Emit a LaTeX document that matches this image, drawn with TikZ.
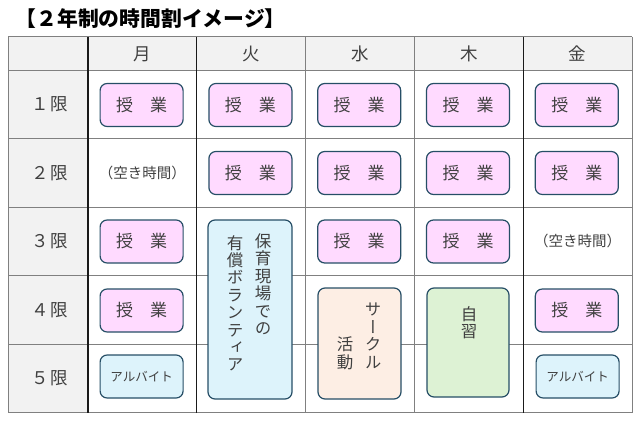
\documentclass[tikz,border=0pt]{standalone}
\usepackage{fontspec}
\setmainfont{Noto Sans CJK JP}
\newfontfamily\jpv[RawFeature=+vert]{Noto Sans CJK JP}
\definecolor{hdr}{HTML}{F2F2F2}
\definecolor{hline}{HTML}{808080}
\definecolor{vline}{HTML}{1A1A1A}
\definecolor{boxc}{HTML}{264E66}
\definecolor{txt}{HTML}{404040}
\definecolor{pinkf}{HTML}{FFDAFF}
\definecolor{bluef}{HTML}{DDF3FB}
\definecolor{peachf}{HTML}{FDEEE4}
\definecolor{greenf}{HTML}{DDF2D4}
\tikzset{
  jbox/.style={draw=boxc, line width=1.2pt, rounded corners=7pt, minimum width=83pt, minimum height=43pt, inner sep=0pt, text=txt},
  classbox/.style={jbox, fill=pinkf, font=\fontsize{17}{17}\selectfont},
  jobbox/.style={jbox, fill=bluef, font=\fontsize{12.5}{12.5}\selectfont},
  lbl/.style={inner sep=0pt, text=txt},
  hdrtxt/.style={lbl, font=\fontsize{17.5}{17.5}\selectfont},
  freetxt/.style={lbl, font=\fontsize{14.5}{14.5}\selectfont},
  vtxt/.style={lbl, anchor=north, align=center, font=\jpv\fontsize{16.5}{17.4}\selectfont},
}
\begin{document}
\begin{tikzpicture}[x=1pt,y=-1pt]
\useasboundingbox (0,0) rectangle (639,422);
% backgrounds
\fill[hdr] (8,37) rectangle (632,70.5);
\fill[hdr] (8,70.5) rectangle (88,412.5);
% horizontal lines
\foreach \yy in {37,70.5,138.5,207,275.5,344,412.5}
  \draw[hline, line width=1pt] (8,\yy) -- (632,\yy);
% vertical lines
\foreach \xx in {8,305.6,414.4,632}
  \draw[hline, line width=1pt] (\xx,37) -- (\xx,412.5);
\foreach \xx in {88,196.8,523.2}
  \draw[vline, line width=1.1pt] (\xx,37) -- (\xx,412.5);
% title
\node[anchor=west, inner sep=0pt, font=\bfseries\fontsize{20.8}{20.8}\selectfont] (title) at (15.5,19) {【２年制の時間割イメージ】};
% headers
\node[hdrtxt] (mon) at (142.4,54) {月};
\node[hdrtxt] (tue) at (251.2,54) {火};
\node[hdrtxt] (wed) at (360,54) {水};
\node[hdrtxt] (thu) at (468.8,54) {木};
\node[hdrtxt] (fri) at (577.6,54) {金};
\node[hdrtxt] (p1) at (50,104.5) {１\hspace{2pt}限};
\node[hdrtxt] (p2) at (50,172.75) {２\hspace{2pt}限};
\node[hdrtxt] (p3) at (50,241.25) {３\hspace{2pt}限};
\node[hdrtxt] (p4) at (50,309.75) {４\hspace{2pt}限};
\node[hdrtxt] (p5) at (50,378.25) {５\hspace{2pt}限};
% row 1
\node[classbox] (m1) at (141.6,105) {授　業};
\node[classbox] (t1) at (250.4,105) {授　業};
\node[classbox] (w1) at (359.2,105) {授　業};
\node[classbox] (h1) at (468,105) {授　業};
\node[classbox] (f1) at (576.8,105) {授　業};
% row 2
\node[freetxt] (m2) at (142.4,172.75) {（空き時間）};
\node[classbox] (t2) at (250.4,173) {授　業};
\node[classbox] (w2) at (359.2,173) {授　業};
\node[classbox] (h2) at (468,173) {授　業};
\node[classbox] (f2) at (576.8,173) {授　業};
% row 3
\node[classbox] (m3) at (141.6,241.5) {授　業};
\node[classbox] (w3) at (359.2,241.5) {授　業};
\node[classbox] (h3) at (468,241.5) {授　業};
\node[freetxt] (f3) at (577.6,241.25) {（空き時間）};
% row 4
\node[classbox] (m4) at (141.6,310.5) {授　業};
\node[classbox] (f4) at (576.8,310.5) {授　業};
% row 5
\node[jobbox] (m5) at (141.6,376.5) {アルバイト};
\node[jobbox] (f5) at (577.6,376.5) {アルバイト};
% tall boxes
\node[jbox, fill=bluef, minimum width=84pt, minimum height=179pt] (vol) at (250,309.5) {};
\node[vtxt] (volA) at (263,233.5) {保\\育\\現\\場\\で\\の};
\node[vtxt] (volB) at (235,235) {有\\償\\ボ\\ラ\\ン\\テ\\ィ\\ア};
\node[jbox, fill=peachf, minimum width=83pt, minimum height=111pt] (club) at (359.5,343.5) {};
\node[vtxt] (clubA) at (373,303) {サ\\ー\\ク\\ル};
\node[vtxt] (clubB) at (345,337) {活\\動};
\node[jbox, fill=greenf, minimum width=82pt, minimum height=109pt] (self) at (468,342.5) {};
\node[vtxt] (selfA) at (469,306) {自\\習};
\end{tikzpicture}
\end{document}
